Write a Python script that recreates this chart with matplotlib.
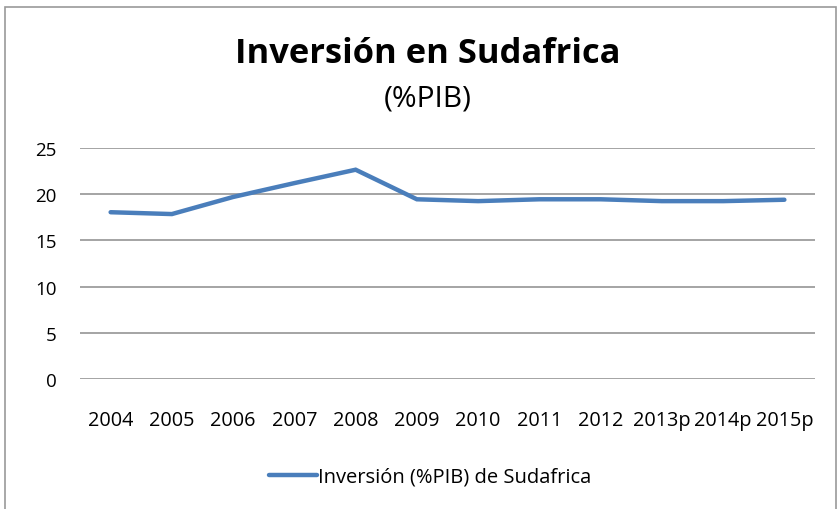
import matplotlib
matplotlib.use("Agg")
import matplotlib.pyplot as plt
from matplotlib.patches import Rectangle

categories = ["2004", "2005", "2006", "2007", "2008", "2009", "2010", "2011",
              "2012", "2013p", "2014p", "2015p"]
values = [18.05, 17.85, 19.7, 21.2, 22.65, 19.45, 19.25, 19.45, 19.45, 19.25, 19.25, 19.4]
y_ticks = [0, 5, 10, 15, 20, 25]
series_name = "Inversión (%PIB) de Sudafrica"
title = "Inversión en Sudafrica"
subtitle = "(%PIB)"

plt.rcParams['font.family'] = ['Open Sans', 'DejaVu Sans']

fig = plt.figure(figsize=(8.38, 5.10), dpi=100)
fig.patches.append(Rectangle((5/838, -0.02), 831/838, 1 - 8/510 + 0.02,
                             transform=fig.transFigure, fill=False,
                             edgecolor="#9a9a9a", linewidth=1.2))
ax = fig.add_axes([80/838, 130/510, 735/838, 231/510])

x = list(range(len(categories)))
ax.plot(x, values, color="#4a7ebb", linewidth=3.2, solid_capstyle="round",
        solid_joinstyle="miter", label=series_name)

ax.set_xlim(-0.5, len(categories) - 0.5)
ax.set_ylim(0, 25)
ax.set_yticks(y_ticks)
ax.set_xticks(x)
ax.set_xticklabels(categories)
ax.grid(axis="y", color="#8c8c8c", linewidth=1.1)
ax.set_axisbelow(True)
for s in ax.spines.values():
    s.set_visible(False)
ax.tick_params(axis="both", length=0, labelsize=13.5, colors="black")
ax.tick_params(axis="x", labelsize=14.3)
ax.tick_params(axis="y", pad=17)
ax.tick_params(axis="x", pad=22)

fig.text(428/838, 1 - 54/510, title, ha="center", va="center",
         fontsize=24.8, fontweight="bold")
fig.text(428/838, 1 - 99/510, subtitle, ha="center", va="center", fontsize=21.5)

leg = fig.legend(loc="center", bbox_to_anchor=(430/838, 1 - 478/510),
                 frameon=False, fontsize=14.5, handlelength=2.4, handletextpad=0.05)

fig.savefig("out.png", dpi=100)
